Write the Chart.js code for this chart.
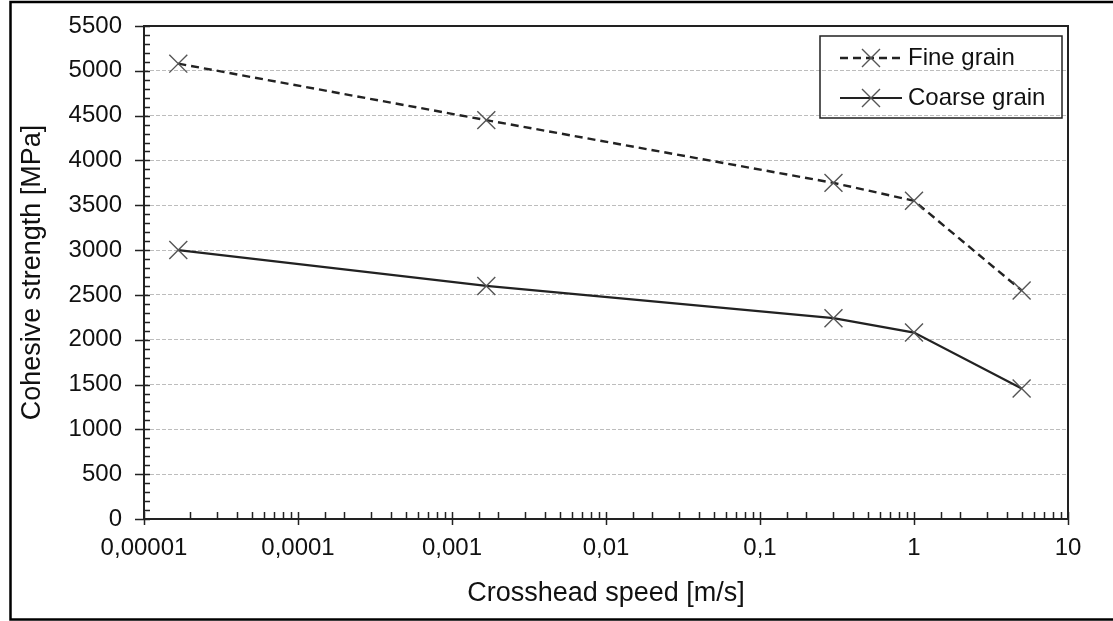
<!DOCTYPE html>
<html lang="en">
<head>
<meta charset="UTF-8">
<title>Cohesive strength vs crosshead speed</title>
<script src="https://cdn.jsdelivr.net/npm/chart.js"></script>
<style>
  body { margin: 0; background: #fff; }
  canvas { display: block; }
</style>
</head>
<body>
<canvas id="chart" width="1113" height="621"></canvas>
<script>
  // crosshead speed [m/s]
  const speeds = [0.0000167, 0.00167, 0.3, 1, 5];
  const fineGrain = [5080, 4450, 3750, 3550, 2550];
  const coarseGrain = [3000, 2600, 2240, 2080, 1455];
  const xTickLabels = ['0,00001', '0,0001', '0,001', '0,01', '0,1', '1', '10'];
  const yTickLabels = ['0', '500', '1000', '1500', '2000', '2500', '3000', '3500', '4000', '4500', '5000', '5500'];

  const FONT = "'Liberation Sans', Arial, sans-serif";
  Chart.defaults.font.family = FONT;
  Chart.defaults.color = '#111';

  function decadeIndex(v) {
    const lg = Math.log10(v);
    const e = Math.round(lg);
    return Math.abs(lg - e) < 1e-6 ? e + 5 : -1;
  }

  function toPoints(vals) {
    return vals.map((v, i) => ({x: speeds[i], y: v}));
  }

  // frame, tick marks and legend box
  const extras = {
    id: 'extras',
    beforeDraw(chart) {
      const ctx = chart.ctx;
      ctx.save();
      ctx.fillStyle = '#fff';
      ctx.fillRect(0, 0, chart.width, chart.height);
      ctx.restore();
    },
    afterDraw(chart) {
      const {ctx, chartArea: a, scales: {x, y}} = chart;
      ctx.save();

      // outer border
      ctx.strokeStyle = '#000';
      ctx.lineWidth = 2.5;
      ctx.strokeRect(10.5, 2, chart.width + 20, 617.5);

      // plot box
      ctx.strokeStyle = '#222';
      ctx.lineWidth = 2;
      ctx.strokeRect(a.left, a.top, a.right - a.left, a.bottom - a.top);

      // tick marks
      ctx.lineWidth = 1.5;
      ctx.beginPath();
      x.ticks.forEach(t => {
        const px = Math.round(x.getPixelForValue(t.value)) + 0.5;
        const major = decadeIndex(t.value) >= 0;
        ctx.moveTo(px, a.bottom - 7);
        ctx.lineTo(px, a.bottom + (major ? 6 : 0));
      });
      y.ticks.forEach(t => {
        const py = Math.round(y.getPixelForValue(t.value)) + 0.5;
        const major = t.value % 500 === 0;
        ctx.moveTo(a.left + 6, py);
        ctx.lineTo(a.left - (major ? 9 : 0), py);
      });
      ctx.stroke();

      // legend
      const bx = a.right - 248, by = a.top + 10, bw = 242, bh = 82;
      ctx.strokeStyle = '#222';
      ctx.lineWidth = 1.5;
      ctx.strokeRect(bx, by, bw, bh);
      chart.data.datasets.forEach((ds, i) => {
        const cy = by + 22 + i * 40;
        const x0 = bx + 20, x1 = bx + 82, cx = (x0 + x1) / 2;
        ctx.strokeStyle = ds.borderColor;
        ctx.lineWidth = ds.borderWidth;
        ctx.setLineDash(ds.borderDash || []);
        ctx.beginPath();
        ctx.moveTo(x0, cy);
        ctx.lineTo(x1, cy);
        ctx.stroke();
        ctx.setLineDash([]);
        ctx.strokeStyle = ds.pointBorderColor;
        ctx.lineWidth = ds.pointBorderWidth;
        const r = 9;
        ctx.beginPath();
        ctx.moveTo(cx - r, cy - r); ctx.lineTo(cx + r, cy + r);
        ctx.moveTo(cx - r, cy + r); ctx.lineTo(cx + r, cy - r);
        ctx.stroke();
        ctx.fillStyle = '#111';
        ctx.font = '24px ' + FONT;
        ctx.textBaseline = 'middle';
        ctx.fillText(ds.label, x1 + 6, cy);
      });
      ctx.restore();
    }
  };

  new Chart(document.getElementById('chart'), {
    type: 'scatter',
    data: {
      datasets: [{
        label: 'Fine grain',
        data: toPoints(fineGrain),
        showLine: true,
        borderColor: '#222',
        borderWidth: 2.4,
        borderDash: [8, 5],
        pointStyle: 'crossRot',
        pointRadius: 12.7,
        pointBorderColor: '#555',
        pointBorderWidth: 1.4,
        pointBackgroundColor: 'transparent'
      }, {
        label: 'Coarse grain',
        data: toPoints(coarseGrain),
        showLine: true,
        borderColor: '#222',
        borderWidth: 2.2,
        pointStyle: 'crossRot',
        pointRadius: 12.7,
        pointBorderColor: '#555',
        pointBorderWidth: 1.4,
        pointBackgroundColor: 'transparent'
      }]
    },
    options: {
      responsive: false,
      animation: false,
      layout: { padding: { top: 26, right: 45, left: 0, bottom: 0 } },
      plugins: {
        legend: { display: false },
        tooltip: { enabled: false }
      },
      scales: {
        x: {
          type: 'logarithmic',
          min: 0.00001,
          max: 10,
          border: { display: false },
          grid: { drawOnChartArea: false, drawTicks: false },
          ticks: {
            autoSkip: false,
            maxRotation: 0,
            padding: 15,
            font: { size: 24 },
            callback: v => {
              const i = decadeIndex(v);
              return i >= 0 ? xTickLabels[i] : '';
            }
          },
          title: {
            display: true,
            text: 'Crosshead speed [m/s]',
            font: { size: 27 },
            padding: { top: 0, bottom: 11 }
          },
          afterFit: s => { s.height = 102; s.paddingLeft = 0; s.paddingRight = 0; }
        },
        y: {
          min: 0,
          max: 5500,
          border: { display: false, dash: [4, 2] },
          grid: {
            drawTicks: false,
            lineWidth: 1,
            color: c => (c.tick && c.tick.value % 500 === 0) ? '#bdbdbd' : 'transparent'
          },
          ticks: {
            stepSize: 100,
            autoSkip: false,
            maxTicksLimit: 100,
            padding: 22,
            font: { size: 24 },
            callback: v => v % 500 === 0 ? yTickLabels[v / 500] : ''
          },
          title: {
            display: true,
            text: 'Cohesive strength [MPa]',
            font: { size: 27 },
            padding: { top: 16, bottom: 0 }
          },
          afterFit: s => { s.width = 144; s.paddingTop = 0; s.paddingBottom = 0; }
        }
      }
    },
    plugins: [extras]
  });
</script>
</body>
</html>
